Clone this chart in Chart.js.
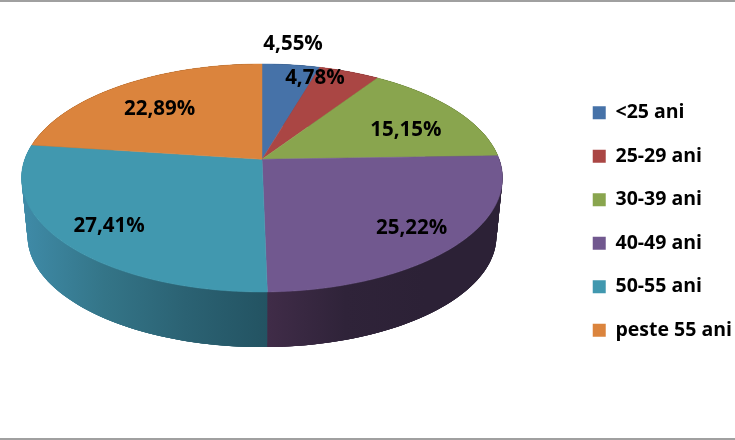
<!DOCTYPE html>
<html>
<head>
<meta charset="utf-8">
<title>Pie</title>
<script src="https://cdn.jsdelivr.net/npm/chart.js@4"></script>
<style>
  html, body { margin: 0; padding: 0; background: #fff; }
  #wrap { position: relative; width: 735px; height: 440px; overflow: hidden; }
  #wrap canvas { position: absolute; left: 0; top: 0; }
  .rule { position: absolute; left: 0; width: 735px; height: 2px; background: #a0a0a0; }
</style>
</head>
<body>
<div id="wrap">
  <canvas id="pie" width="735" height="440"></canvas>
  <div class="rule" style="top:0"></div>
  <div class="rule" style="top:438px"></div>
</div>
<script>
const categories = ["<25 ani", "25-29 ani", "30-39 ani", "40-49 ani", "50-55 ani", "peste 55 ani"];
const shares = [4.55, 4.78, 15.15, 25.22, 27.41, 22.89];

const topColors = ["#4672a8", "#aa4644", "#89a54e", "#71588f", "#4198af", "#db843d"];
// rim shading, left to right across each slice
const sideStops = [
  ["#2b4567", "#2b4567"],
  ["#682a29", "#682a29"],
  ["#54652f", "#54652f"],
  ["#402c48", "#2f2339", "#2c2136", "#2c2136"],
  ["#3f8ba8", "#347588", "#2b6273", "#235362"],
  ["#875122", "#875122"]
];
// where each label sits: fraction of the radius, degrees off the slice middle
const labelDist = [1.262, 0.867, 0.691, 0.805, 0.803, 0.678];
const labelTurn = [-1, -8, 5.7, 1.2, -1.3, -2.3];

const FONT = '"Open Sans", "Lato", sans-serif';

// tilted disc: perspective of the unit circle onto the page
const view = { x: 262, y: 159.3, a: 237.2, b: 110.9, k: -0.164, midY: 178, drop: 58, shrink: 0.975 };

function project(angle, dist) {
  const u = dist * Math.cos(angle);
  const v = dist * Math.sin(angle);
  const w = 1 + view.k * v;
  return { x: view.x + view.a * u / w, y: view.y + view.b * v / w };
}

function lower(p) {
  return {
    x: view.x + view.shrink * (p.x - view.x),
    y: view.midY + view.drop + view.shrink * (p.y - view.midY)
  };
}

function rimPoints(arc) {
  const pts = [];
  const n = Math.max(2, Math.ceil((arc.endAngle - arc.startAngle) / 0.01));
  for (let i = 0; i <= n; i++) {
    pts.push(project(arc.startAngle + (arc.endAngle - arc.startAngle) * i / n, 1));
  }
  return pts;
}

const tiltedPie = {
  id: "tiltedPie",
  afterLayout(chart) {
    // legend sits a bit closer to the right edge than the library puts it
    chart.legend.left += 7;
    chart.legend.right += 7;
    chart.legend.top += 1.5;
    chart.legend.bottom += 1.5;
  },
  beforeDatasetDraw(chart, args) {
    const ctx = chart.ctx;
    const arcs = args.meta.data;
    ctx.save();

    arcs.forEach((arc, i) => {
      const rim = rimPoints(arc);
      const xs = rim.map(p => p.x);
      const grad = ctx.createLinearGradient(Math.min(...xs), 0, Math.max(...xs), 0);
      sideStops[i].forEach((c, j) => grad.addColorStop(j / (sideStops[i].length - 1), c));
      ctx.fillStyle = grad;
      // overlapping quads along the rim: the band also fills where the two rims cross
      for (let j = 0; j < rim.length - 1; j++) {
        const end = Math.min(j + 4, rim.length - 1);
        const a = lower(rim[j]);
        const b = lower(rim[end]);
        ctx.beginPath();
        ctx.moveTo(rim[j].x, rim[j].y);
        ctx.lineTo(rim[end].x, rim[end].y);
        ctx.lineTo(b.x, b.y);
        ctx.lineTo(a.x, a.y);
        ctx.closePath();
        ctx.fill();
      }
    });

    arcs.forEach((arc, i) => {
      ctx.beginPath();
      ctx.moveTo(view.x, view.y);
      rimPoints(arc).forEach(p => ctx.lineTo(p.x, p.y));
      ctx.closePath();
      ctx.fillStyle = topColors[i];
      ctx.strokeStyle = topColors[i];
      ctx.lineWidth = 0.5;
      ctx.fill();
      ctx.stroke();
    });

    ctx.font = `bold 20.5px ${FONT}`;
    ctx.fillStyle = "#000";
    ctx.textAlign = "center";
    ctx.textBaseline = "middle";
    arcs.forEach((arc, i) => {
      const mid = (arc.startAngle + arc.endAngle) / 2 + labelTurn[i] * Math.PI / 180;
      const p = project(mid, labelDist[i]);
      ctx.fillText(shares[i].toFixed(2).replace(".", ",") + "%", p.x, p.y);
    });

    ctx.restore();
    return false;
  }
};

new Chart(document.getElementById("pie"), {
  type: "pie",
  data: {
    labels: categories,
    datasets: [{ data: shares, backgroundColor: topColors, borderWidth: 0 }]
  },
  options: {
    responsive: false,
    animation: false,
    plugins: {
      tooltip: { enabled: false },
      legend: {
        position: "right",
        labels: {
          boxWidth: 13,
          boxHeight: 13,
          padding: 24,
          color: "#000",
          font: { family: FONT, weight: "bold", size: 19.5 }
        }
      }
    }
  },
  plugins: [tiltedPie]
});
</script>
</body>
</html>
